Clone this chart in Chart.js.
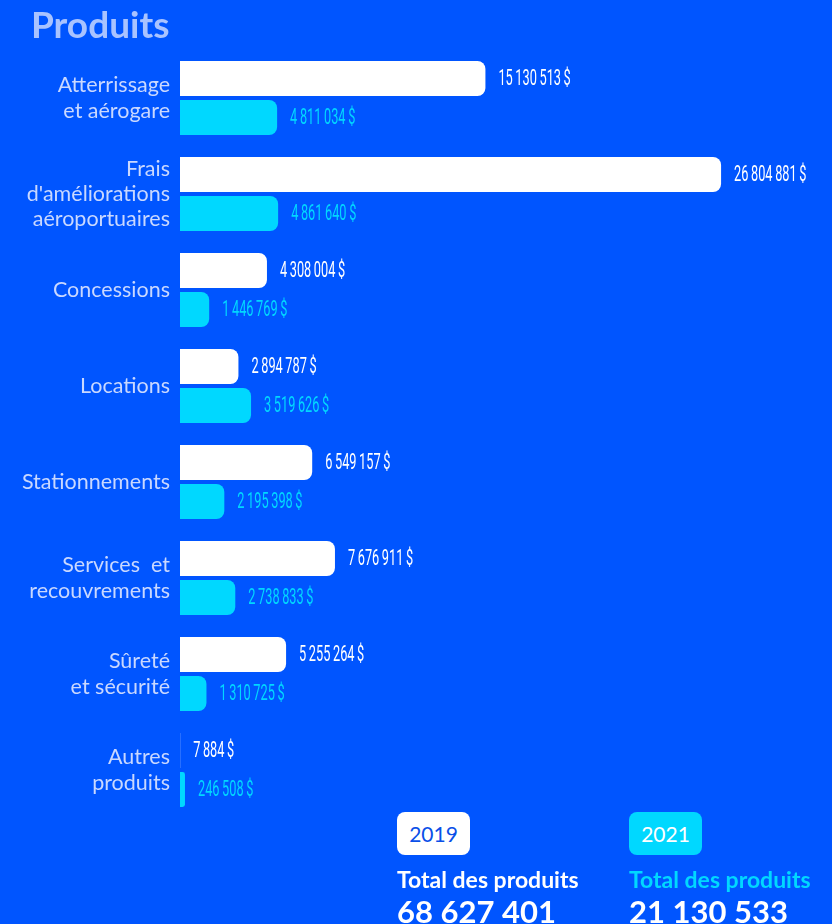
<!DOCTYPE html>
<html>
<head>
<meta charset="utf-8">
<script src="https://cdn.jsdelivr.net/npm/chart.js@4"></script>
<style>
    html, body { margin: 0; padding: 0; background: #0055ff; }
    #wrap { position: relative; width: 832px; height: 924px; overflow: hidden; font-family: "Lato", sans-serif; }
    #title { position: absolute; left: 31px; top: 1px; font-size: 37px; font-weight: 700; color: #a9c3ff; }
    .box { position: absolute; top: 812px; width: 73px; height: 43px; border-radius: 8px; font-size: 21px; line-height: 43px; text-align: center; }
    .tot { position: absolute; top: 865px; font-size: 23px; font-weight: 700; }
    .num { position: absolute; top: 892px; font-size: 31px; font-weight: 700; color: #ffffff; }
</style>
</head>
<body>
<div id="wrap">
    <canvas id="chart"></canvas>
    <div id="title">Produits</div>
    <div class="box" style="left:397px;background:#ffffff;color:#0a4fe8;">2019</div>
    <div class="box" style="left:629px;background:#00d8ff;color:#ffffff;">2021</div>
    <div class="tot" style="left:397px;color:#ffffff;">Total des produits</div>
    <div class="tot" style="left:629px;color:#00d8ff;">Total des produits</div>
    <div class="num" style="left:397px;">68 627 401</div>
    <div class="num" style="left:629px;">21 130 533</div>
</div>
<script>
const categories = [
    ["Atterrissage", "et aérogare"],
    ["Frais", "d'améliorations", "aéroportuaires"],
    "Concessions",
    "Locations",
    "Stationnements",
    ["Services  et", "recouvrements"],
    ["Sûreté", "et sécurité"],
    ["Autres", "produits"],
];
const values2019 = [15130513, 26804881, 4308004, 2894787, 6549157, 7676911, 5255264, 7884];
const values2021 = [4811034, 4861640, 1446769, 3519626, 2195398, 2738833, 1310725, 246508];

const WHITE = "#ffffff";
const CYAN = "#00d8ff";

function fmt(v) {
    return v.toString().replace(/\B(?=(\d{3})+(?!\d))/g, "\u2009") + "\u2009$";
}

const valueLabels = {
    id: "valueLabels",
    afterDatasetsDraw(chart) {
        const ctx = chart.ctx;
        chart.data.datasets.forEach((ds, i) => {
            const meta = chart.getDatasetMeta(i);
            meta.data.forEach((bar, j) => {
                ctx.save();
                ctx.translate(bar.x + 13, bar.y + 1);
                ctx.scale(0.58, 1);
                ctx.font = "400 22px Roboto";
                ctx.fillStyle = ds.backgroundColor;
                ctx.textBaseline = "middle";
                ctx.fillText(fmt(ds.data[j]), 0, 0);
                ctx.restore();
            });
        });
    },
};

const radius = { topLeft: 0, bottomLeft: 0, topRight: 8, bottomRight: 8 };

new Chart(document.getElementById("chart"), {
    type: "bar",
    data: {
        labels: categories,
        datasets: [
            { label: "2019", data: values2019, backgroundColor: WHITE, borderRadius: radius, borderSkipped: false },
            { label: "2021", data: values2021, backgroundColor: CYAN, borderRadius: radius, borderSkipped: false },
        ],
    },
    options: {
        indexAxis: "y",
        responsive: true,
        maintainAspectRatio: false,
        animation: false,
        categoryPercentage: 0.8125,
        barPercentage: 0.9,
        layout: { padding: { top: 50, bottom: 106, left: 0, right: 0 } },
        plugins: {
            legend: { display: false },
            tooltip: { enabled: false },
        },
        scales: {
            x: {
                display: false,
                min: 0,
                max: 32300000,
            },
            y: {
                grid: { display: false },
                border: { display: false },
                afterFit(scale) { scale.width = 180; },
                ticks: {
                    color: "#c9d8ff",
                    padding: 2,
                    font: { family: "Lato", size: 21.5, lineHeight: 1.17 },
                },
            },
        },
    },
    plugins: [valueLabels],
});
</script>
</body>
</html>
